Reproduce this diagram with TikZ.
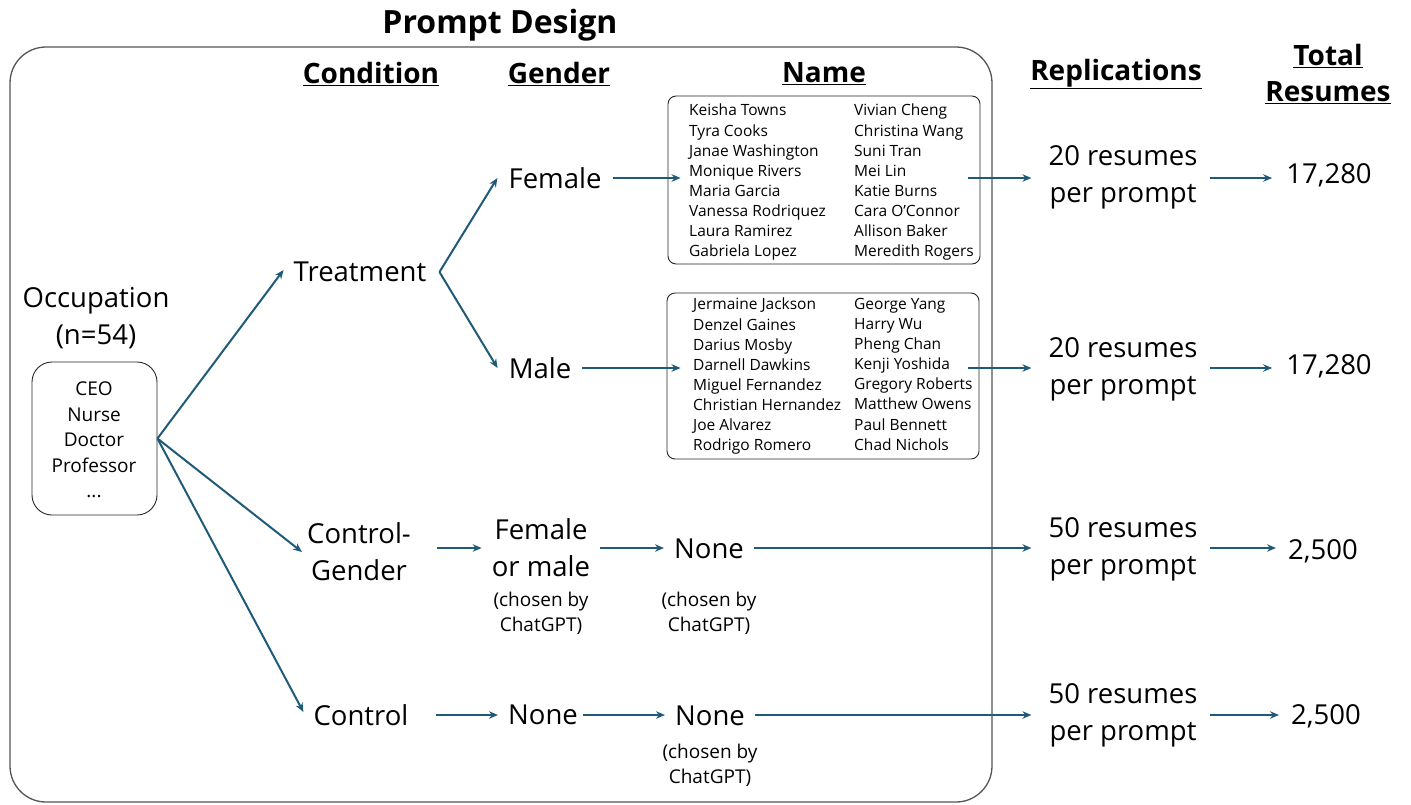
\documentclass[tikz,border=0pt]{standalone}
\usepackage{fontspec}
\setmainfont{Open Sans}
\usetikzlibrary{arrows.meta}
\definecolor{arrowc}{HTML}{1F5A78}
\definecolor{framec}{HTML}{555555}
\tikzset{
  big/.style={font=\fontsize{27.5}{37}\selectfont, align=center, inner sep=0pt},
  hdr/.style={font=\bfseries\fontsize{28}{36}\selectfont, align=center, inner sep=0pt},
  small/.style={font=\fontsize{19}{25}\selectfont, align=center, inner sep=0pt},
  occtext/.style={font=\fontsize{19}{25.6}\selectfont, align=center, inner sep=0pt},
  namecol/.style={font=\fontsize{15.5}{20.1}\selectfont, align=left, inner sep=0pt, anchor=north west},
  namebox/.style={draw=black!85, line width=0.9pt, rounded corners=8pt, inner sep=0pt},
  arr/.style={-{Stealth[length=9pt,width=7.5pt]}, line width=2pt, draw=arrowc},
}
\begin{document}
\begin{tikzpicture}[x=1pt,y=-1pt]
\useasboundingbox (0,0) rectangle (1411,804);
% outer frame
\draw[framec, line width=1.3pt, rounded corners=36pt] (10,47) rectangle (992,802);
% title and headers
\node[font=\bfseries\fontsize{32}{38}\selectfont, inner sep=0pt] (title) at (500,25) {Prompt Design};
\node[hdr] (hcond) at (371,74) {\underline{Condition}};
\node[hdr] (hgen) at (559,74) {\underline{Gender}};
\node[hdr] (hname) at (824,74) {\underline{Name}};
\node[hdr] (hrep) at (1116,74) {\underline{Replications}};
\node[hdr] (htot) at (1328,74) {\underline{Total}\\\underline{Resumes}};
% occupation
\node[big] (occlab) at (96,318) {Occupation\\(n=54)};
\node[draw=black!85, line width=0.9pt, rounded corners=20pt, minimum width=125pt, minimum height=153pt, inner sep=0pt] (occ) at (94.5,438.5) {};
\node[occtext] (occlist) at (94,440) {CEO\\Nurse\\Doctor\\Professor\\...};
% conditions
\node[big] (treat) at (360,272) {Treatment};
\node[big] (ctrlg) at (359,552) {Control-\\Gender};
\node[big] (ctrl) at (361,715) {Control};
% genders
\node[big] (fem) at (555,178) {Female};
\node[big] (male) at (540,368) {Male};
\node[big] (fom) at (541,548) {Female\\or male};
\node[small] (fomc) at (541,613) {(chosen by\\ChatGPT)};
\node[big] (none1) at (543,715) {None};
% names
\node[namebox, minimum width=312pt, minimum height=168pt] (nb1) at (824,180) {};
\node[namecol] (nb1a) at (689,104) {Keisha Towns\\Tyra Cooks\\Janae Washington\\Monique Rivers\\Maria Garcia\\Vanessa Rodriquez\\Laura Ramirez\\Gabriela Lopez};
\node[namecol] (nb1b) at (854,104) {Vivian Cheng\\Christina Wang\\Suni Tran\\Mei Lin\\Katie Burns\\Cara O’Connor\\Allison Baker\\Meredith Rogers};
\node[namebox, minimum width=312pt, minimum height=166pt] (nb2) at (823,376) {};
\node[namecol] (nb2a) at (693,298) {Jermaine Jackson\\Denzel Gaines\\Darius Mosby\\Darnell Dawkins\\Miguel Fernandez\\Christian Hernandez\\Joe Alvarez\\Rodrigo Romero};
\node[namecol] (nb2b) at (854,298) {George Yang\\Harry Wu\\Pheng Chan\\Kenji Yoshida\\Gregory Roberts\\Matthew Owens\\Paul Bennett\\Chad Nichols};
\node[big] (none2) at (709,549) {None};
\node[small] (none2c) at (709,613) {(chosen by\\ChatGPT)};
\node[big] (none3) at (710,716) {None};
\node[small] (none3c) at (710,765) {(chosen by\\ChatGPT)};
% replications
\node[big] (rep1) at (1123,177) {20 resumes\\per prompt};
\node[big] (rep2) at (1123,369) {20 resumes\\per prompt};
\node[big] (rep3) at (1123,549) {50 resumes\\per prompt};
\node[big] (rep4) at (1123,715) {50 resumes\\per prompt};
% totals
\node[big] (tot1) at (1329,175) {17,280};
\node[big] (tot2) at (1329,366) {17,280};
\node[big] (tot3) at (1323,551) {2,500};
\node[big] (tot4) at (1326,716) {2,500};
% arrows
\draw[arr] (occ.east) -- ([xshift=-10pt,yshift=2pt]treat.west);
\draw[arr] (occ.east) -- ([xshift=-5pt]ctrlg.west);
\draw[arr] (occ.east) -- ([xshift=-10pt,yshift=3pt]ctrl.west);
\draw[arr] ([xshift=13pt]treat.east) -- ([xshift=-11pt]fem.west);
\draw[arr] ([xshift=13pt]treat.east) -- ([xshift=-11pt]male.west);
\draw[arr] ([xshift=11pt]fem.east) -- ([xshift=13pt]nb1.west |- fem.east);
\draw[arr] ([xshift=11pt]male.east) -- ([xshift=14pt]nb2.west |- male.east);
\draw[arr] ([xshift=-12pt]nb1.east |- fem.east) -- ([xshift=-17pt]rep1.west |- fem.east);
\draw[arr] ([xshift=-11pt]nb2.east |- male.east) -- ([xshift=-17pt]rep2.west |- male.east);
\draw[arr] ([xshift=12pt]rep1.east |- fem.east) -- ([xshift=-14pt]tot1.west |- fem.east);
\draw[arr] ([xshift=12pt]rep2.east |- male.east) -- ([xshift=-14pt]tot2.west |- male.east);
\draw[arr] ([xshift=26pt]ctrlg.east |- fom.west) -- ([xshift=-10pt]fom.west);
\draw[arr] ([xshift=10pt]fom.east) -- ([xshift=-10pt]none2.west |- fom.east);
\draw[arr] ([xshift=10pt]none2.east |- fom.east) -- ([xshift=-17pt]rep3.west |- fom.east);
\draw[arr] ([xshift=12pt]rep3.east |- fom.east) -- ([xshift=-12pt]tot3.west |- fom.east);
\draw[arr] ([xshift=27pt]ctrl.east |- none1.west) -- ([xshift=-10pt]none1.west);
\draw[arr] ([xshift=5pt]none1.east) -- ([xshift=-10pt]none3.west |- none1.east);
\draw[arr] ([xshift=10pt]none3.east |- none1.east) -- ([xshift=-17pt]rep4.west |- none1.east);
\draw[arr] ([xshift=12pt]rep4.east |- none1.east) -- ([xshift=-12pt]tot4.west |- none1.east);
\end{tikzpicture}
\end{document}
